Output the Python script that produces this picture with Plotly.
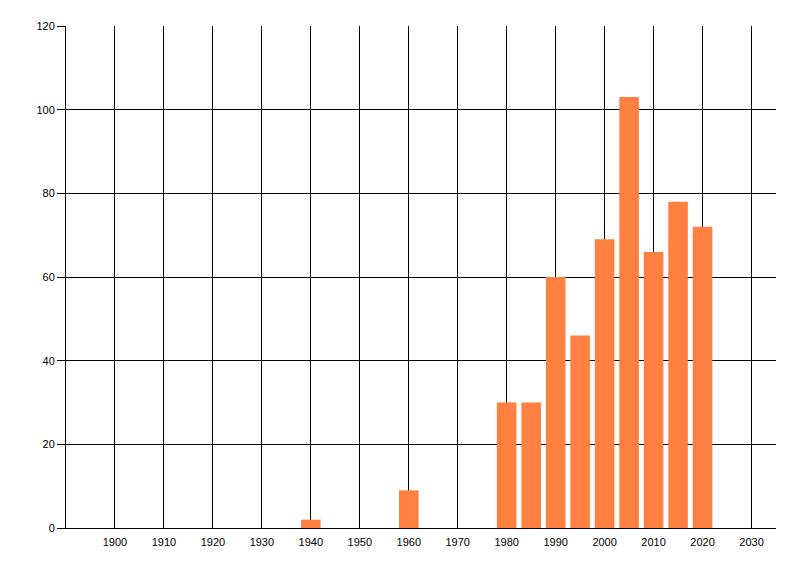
import plotly.graph_objects as go

# decade / half-decade buckets and counts
years = [1940, 1960, 1980, 1985, 1990, 1995, 2000, 2005, 2010, 2015, 2020]
counts = [2, 9, 30, 30, 60, 46, 69, 103, 66, 78, 72]

x_ticks = list(range(1900, 2031, 10))
y_ticks = [0, 20, 40, 60, 80, 100, 120]

fig = go.Figure()
fig.add_trace(go.Bar(x=years, y=counts, width=4,
                     marker=dict(color="#FF8040", line=dict(width=0))))

# page body adds 8px, so margins are shifted to put the plot at 66..776 / 26..528
fig.update_layout(
    width=800, height=576,
    margin=dict(l=58, r=32, t=18, b=56),
    paper_bgcolor="white", plot_bgcolor="white",
    showlegend=False,
    font=dict(family="Liberation Sans, Arial, sans-serif", size=11, color="black"),
)
fig.update_xaxes(range=[1890, 2035], tickvals=x_ticks, ticktext=[str(t) for t in x_ticks],
                 showgrid=True, gridcolor="black", gridwidth=1,
                 showline=True, linecolor="black", linewidth=1,
                 ticks="", zeroline=False, ticklabelstandoff=4)
fig.update_yaxes(range=[0, 120], tickvals=y_ticks,
                 showgrid=True, gridcolor="black", gridwidth=1,
                 showline=True, linecolor="black", linewidth=1,
                 ticks="outside", ticklen=8, tickcolor="black",
                 zeroline=False)

fig.write_html("out.html")
